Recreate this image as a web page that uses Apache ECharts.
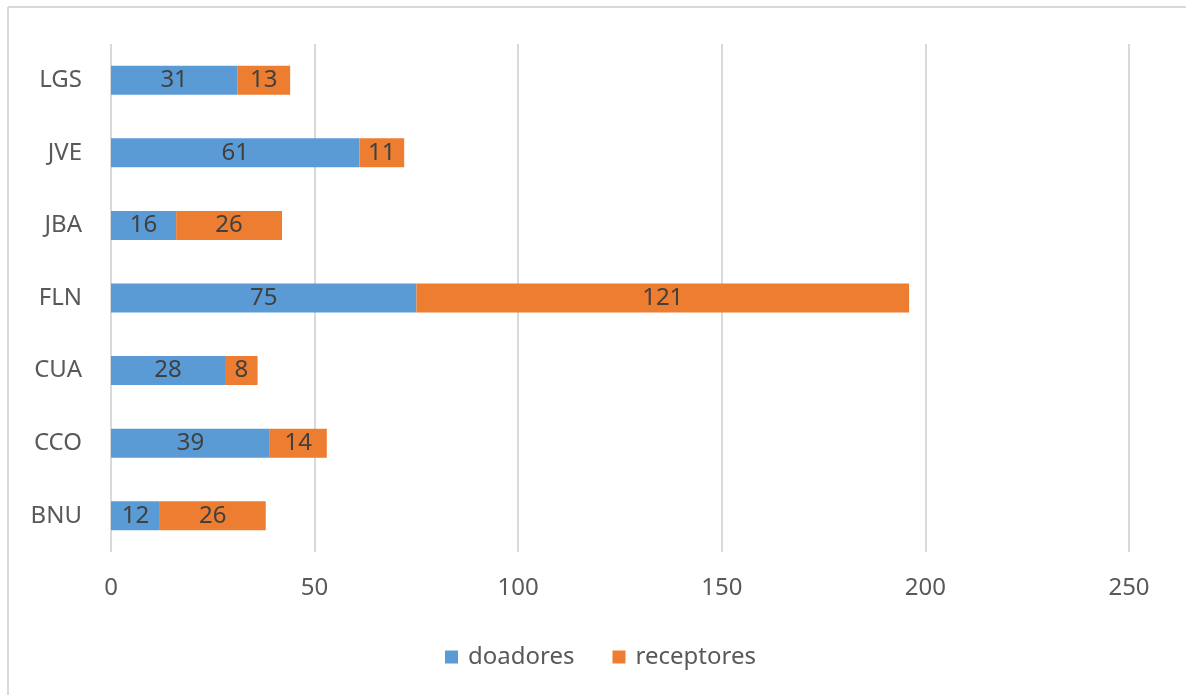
<!DOCTYPE html>
<html>
<head>
<meta charset="utf-8">
<script src="https://cdn.jsdelivr.net/npm/echarts@6/dist/echarts.min.js"></script>
<style>
  html, body { margin: 0; padding: 0; background: #ffffff; }
  #chart { width: 1186px; height: 695px; }
</style>
</head>
<body>
<div id="chart"></div>
<script>
// Sites, bottom to top
const categories = ['BNU', 'CCO', 'CUA', 'FLN', 'JBA', 'JVE', 'LGS'];
const doadores = [12, 39, 28, 75, 16, 61, 31];
const receptores = [26, 14, 8, 121, 26, 11, 13];
const xTicks = [0, 50, 100, 150, 200, 250];

const FONT = '"Noto Sans", "Open Sans", sans-serif';
const labelStyle = {
  show: true,
  position: 'inside',
  color: '#404040',
  fontFamily: FONT,
  fontSize: 24
};

const chart = echarts.init(document.getElementById('chart'), null, { renderer: 'canvas' });
chart.setOption({
  backgroundColor: '#ffffff',
  animation: false,
  graphic: [
    { type: 'line', shape: { x1: 8, y1: 7, x2: 1186, y2: 7 }, style: { stroke: '#d9d9d9', lineWidth: 2 } },
    { type: 'line', shape: { x1: 8, y1: 7, x2: 8, y2: 695 }, style: { stroke: '#d9d9d9', lineWidth: 2 } }
  ],
  grid: { left: 111, right: 57, top: 44, bottom: 143, containLabel: false },
  legend: {
    data: ['doadores', 'receptores'],
    left: 440,
    top: 640,
    itemWidth: 13,
    itemHeight: 13,
    itemGap: 38,
    icon: 'rect',
    textStyle: { color: '#595959', fontFamily: FONT, fontSize: 24, padding: [0, 0, 0, 5] }
  },
  xAxis: {
    type: 'value',
    min: xTicks[0],
    max: xTicks[xTicks.length - 1],
    interval: xTicks[1] - xTicks[0],
    axisLine: { show: false },
    axisTick: { show: false },
    splitLine: { show: true, lineStyle: { color: '#d9d9d9', width: 2 } },
    axisLabel: { color: '#595959', fontFamily: FONT, fontSize: 24, margin: 24 }
  },
  yAxis: {
    type: 'category',
    data: categories,
    axisLine: { show: false },
    axisTick: { show: false },
    axisLabel: { color: '#595959', fontFamily: FONT, fontSize: 24, margin: 29 }
  },
  series: [
    {
      name: 'doadores',
      type: 'bar',
      stack: 'total',
      data: doadores,
      barWidth: 29,
      itemStyle: { color: '#5b9bd5' },
      label: labelStyle
    },
    {
      name: 'receptores',
      type: 'bar',
      stack: 'total',
      data: receptores,
      barWidth: 29,
      itemStyle: { color: '#ed7d31' },
      label: labelStyle
    }
  ]
});
</script>
</body>
</html>
